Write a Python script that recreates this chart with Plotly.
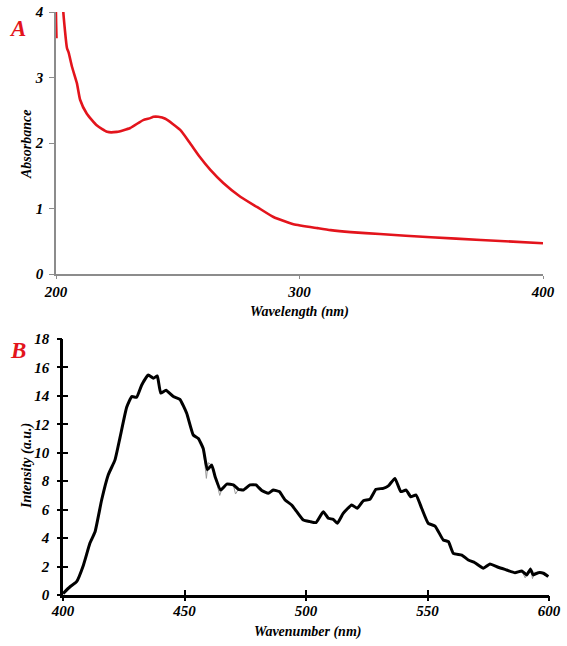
import plotly.graph_objects as go

# ---------------- Panel A data (UV-Vis absorbance) ----------------
a_wavelength = [200.2, 200.5, 202.5, 203.0, 204.5, 205.2, 206.6, 208.6, 209.9, 212.6,
                216.7, 221.0, 225.0, 230.5, 235.8, 238.7, 240.0, 242.0, 244.9, 251.0,
                255.0, 259.0, 263.4, 268.7, 275.7, 282.7, 289.3, 297.5, 307.4, 312.8,
                321.0, 333.0, 354.0, 374.5, 400.0]
a_absorbance = [3.6, 4.6, 4.6, 4.0, 3.45, 3.38, 3.16, 2.91, 2.66, 2.45,
                2.27, 2.17, 2.17, 2.23, 2.35, 2.38, 2.40, 2.40, 2.37, 2.20,
                2.00, 1.79, 1.59, 1.39, 1.18, 1.02, 0.87, 0.76, 0.70, 0.67,
                0.64, 0.61, 0.56, 0.52, 0.47]
a_xticks = [200, 300, 400]
a_yticks = [0, 1, 2, 3, 4]

# ---------------- Panel B data (fluorescence intensity) ----------------
b_wavenumber = [400, 402.9, 405.6, 408.4, 411.1, 413.2, 415.9, 418.6, 421.4, 423.5,
                426.2, 428.3, 430.3, 432.4, 435.1, 437.2, 438.8, 440.2, 442.4, 445.4,
                448.1, 450.9, 453.6, 455.7, 457.7, 459.4, 461.2, 462.6, 464.9, 467.4,
                470.1, 472.2, 474.2, 477.0, 479.4, 481.8, 484.5, 486.5, 489.0, 491.4,
                494.1, 496.2, 498.9, 501.6, 504.1, 507.1, 509.2, 511.2, 512.9, 515.3,
                518.8, 521.1, 523.6, 526.3, 528.8, 531.8, 533.9, 536.6, 539.0, 541.2,
                543.1, 545.3, 547.6, 550.3, 553.1, 556.5, 558.6, 560.6, 564.1, 566.8,
                569.5, 573.0, 575.7, 579.1, 582.6, 586.0, 588.8, 590.8, 592.4, 593.5,
                595.6, 597.7, 599.7]
b_intensity = [0.10, 0.58, 0.94, 2.10, 3.65, 4.45, 6.68, 8.44, 9.50, 11.10,
               13.20, 13.95, 13.90, 14.77, 15.47, 15.24, 15.40, 14.20, 14.40, 13.95,
               13.76, 12.78, 11.25, 11.00, 10.30, 8.80, 9.14, 8.32, 7.38, 7.80,
               7.74, 7.43, 7.38, 7.74, 7.74, 7.34, 7.15, 7.38, 7.27, 6.68,
               6.33, 5.86, 5.27, 5.16, 5.09, 5.86, 5.39, 5.32, 5.04, 5.74,
               6.33, 6.10, 6.63, 6.73, 7.43, 7.50, 7.67, 8.20, 7.27, 7.38,
               6.91, 7.03, 6.10, 5.04, 4.85, 3.87, 3.75, 2.93, 2.81, 2.46,
               2.27, 1.88, 2.18, 1.95, 1.76, 1.57, 1.69, 1.41, 1.81, 1.41,
               1.57, 1.53, 1.29]
# raw (unsmoothed) trace: two short noisy stretches visible in grey (None = gap)
b_raw_wavenumber = [455.7, 457.7, 459.0, 459.8, 461.2, 462.6, 464.5, 465.5, 467.4, 470.1,
                    471.0, 472.2, None, 586.0, 588.8, 590.2, 591.0, 592.4, 593.2, 594.0, 595.6]
b_raw_intensity = [11.00, 10.30, 8.20, 9.30, 9.14, 8.32, 7.00, 7.50, 7.80, 7.74,
                   7.10, 7.43, None, 1.57, 1.69, 1.20, 1.55, 1.95, 1.15, 1.60, 1.57]
b_xticks = [400, 450, 500, 550, 600]
b_yticks = [0, 2, 4, 6, 8, 10, 12, 14, 16, 18]

W, H = 567, 646
SERIF = "Liberation Serif"
tick_font = dict(family=SERIF, size=15, color="black", weight="bold", style="italic")
title_font = dict(family=SERIF, size=14, color="black", weight="bold", style="italic")
panel_font = dict(family=SERIF, size=23, color="#e3141c", weight="bold", style="italic")

def px_x(p):
    return p / W

def px_y(p):
    return 1 - p / H

fig = go.Figure()

fig.add_trace(go.Scatter(x=a_wavelength, y=a_absorbance, mode="lines",
                         line=dict(color="#e3141c", width=2.6, shape="spline", smoothing=0.5),
                         xaxis="x", yaxis="y", showlegend=False))
fig.add_trace(go.Scatter(x=b_raw_wavenumber, y=b_raw_intensity, mode="lines",
                         line=dict(color="#9a9a9a", width=1), connectgaps=False,
                         xaxis="x2", yaxis="y2", showlegend=False))
fig.add_trace(go.Scatter(x=b_wavenumber, y=b_intensity, mode="lines",
                         line=dict(color="black", width=3, shape="spline", smoothing=0.4),
                         xaxis="x2", yaxis="y2", showlegend=False))
# invisible trace that carries the overlay axes used for the outer tick halves of panel B
fig.add_trace(go.Scatter(x=b_wavenumber, y=b_intensity, mode="lines",
                         line=dict(color="rgba(0,0,0,0)", width=0),
                         xaxis="x3", yaxis="y3", showlegend=False, hoverinfo="skip"))

a_dom_x = [px_x(56), px_x(543)]
a_dom_y = [px_y(274), px_y(12)]
b_dom_x = [px_x(63), px_x(549)]
b_dom_y = [px_y(595), px_y(339)]

grey = "#8c8c8c"
common = dict(showgrid=False, zeroline=False, automargin=False)
fig.update_layout(
    width=W, height=H,
    margin=dict(l=0, r=0, t=0, b=0, pad=0, autoexpand=False),
    paper_bgcolor="white", plot_bgcolor="white",
    xaxis=dict(domain=a_dom_x, anchor="y", range=[200, 400], tickvals=a_xticks,
               showline=True, linecolor=grey, linewidth=1.5,
               ticks="outside", ticklen=3, tickcolor=grey, tickwidth=1.2,
               tickfont=tick_font, **common),
    yaxis=dict(domain=a_dom_y, anchor="x", range=[0, 4], tickvals=a_yticks,
               showline=True, linecolor=grey, linewidth=1.5,
               ticks="outside", ticklen=5, tickcolor=grey, tickwidth=1.2,
               ticklabelstandoff=3,
               tickfont=tick_font, **common),
    xaxis2=dict(domain=b_dom_x, anchor="y2", range=[400, 600], tickvals=b_xticks,
                showline=True, linecolor="black", linewidth=2.5,
                ticks="inside", ticklen=5, tickcolor="black", tickwidth=2,
                tickfont=tick_font, **common),
    yaxis2=dict(domain=b_dom_y, anchor="x2", range=[0, 18], tickvals=b_yticks,
                showline=True, linecolor="black", linewidth=2.5,
                ticks="inside", ticklen=5, tickcolor="black", tickwidth=2,
                ticklabelstandoff=8,
                tickfont=tick_font, **common),
    xaxis3=dict(domain=b_dom_x, anchor="y3", overlaying="x2", range=[400, 600], tickvals=b_xticks,
                showline=False, showticklabels=False,
                ticks="outside", ticklen=5, tickcolor="black", tickwidth=2, **common),
    yaxis3=dict(domain=b_dom_y, anchor="x3", overlaying="y2", range=[0, 18], tickvals=b_yticks,
                showline=False, showticklabels=False,
                ticks="outside", ticklen=5, tickcolor="black", tickwidth=2, **common),
)

def note(text, x, y, font, angle=0):
    return dict(text=text, x=px_x(x), y=px_y(y), xref="paper", yref="paper",
                xanchor="center", yanchor="middle", showarrow=False,
                textangle=angle, font=font)

annotations = [
    note("A", 17, 28, panel_font),
    note("B", 18, 350, panel_font),
    note("Absorbance", 26, 145, title_font, -90),
    note("Wavelength (nm)", 299, 312, title_font),
    note("Intensity (a.u.)", 27, 466, title_font, -90),
    note("Wavenumber (nm)", 307, 632, title_font),
]
fig.update_layout(annotations=annotations)

fig.write_html("out.html")
